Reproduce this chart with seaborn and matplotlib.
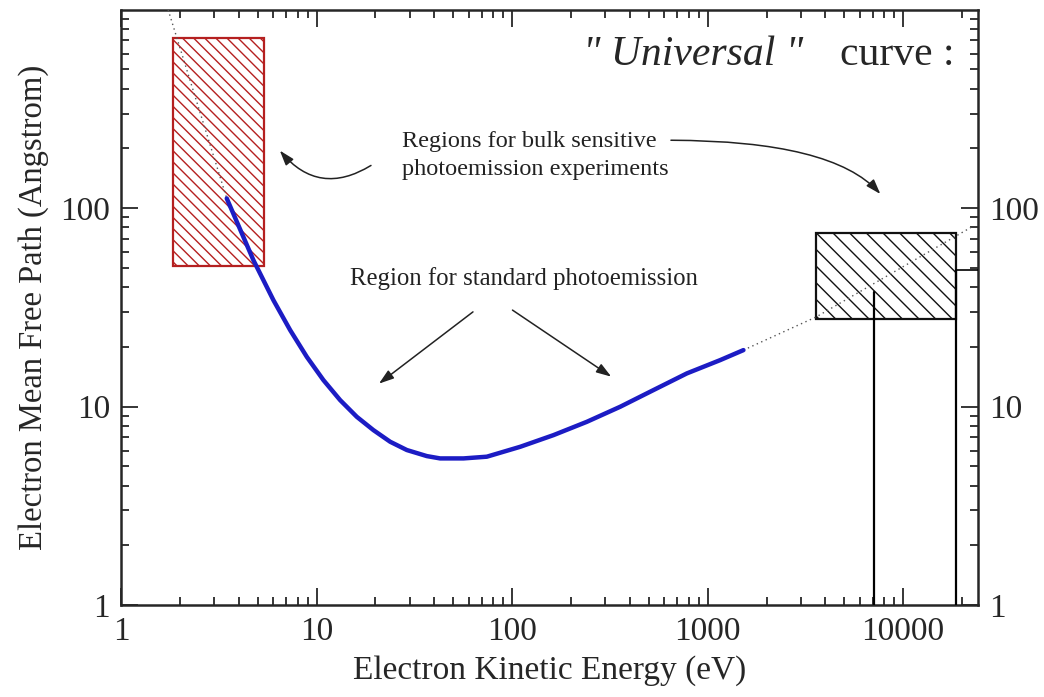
import numpy as np
import pandas as pd
import matplotlib
matplotlib.use("Agg")
import matplotlib.pyplot as plt
import seaborn as sns
from matplotlib.patches import Rectangle

# ---- data ----
energy_ev = [3.47, 4.75, 6.01, 7.32, 8.91, 10.83, 13.19, 16.05, 19.52, 23.77, 28.93, 36.6, 42.8,
             56.4, 74.2, 109.9, 162.7, 241, 357, 528, 783, 1159, 1524]
mfp_angstrom = [112, 54.7, 34.4, 24.3, 17.8, 13.6, 10.78, 8.88, 7.61, 6.65, 6.04, 5.63, 5.48,
                5.48, 5.59, 6.27, 7.18, 8.38, 9.98, 12.11, 14.70, 17.15, 19.26]

extrap_low_x = [1.74, 3.47]
extrap_low_y = [1000, 112]
extrap_high_x = [1524, 3590, 22450]
extrap_high_y = [19.26, 28.3, 80.5]

red_box_x = [1.84, 5.35]
red_box_y = [51, 718]
black_box_x = [3590, 18600]
black_box_y = [27.5, 75]
vline_x = [7110, 18600]
vline_top = [37.9, 48.8]

x_ticks = [1, 10, 100, 1000, 10000]
x_tick_labels = ["1", "10", "100", "1000", "10000"]
y_ticks = [1, 10, 100]
y_tick_labels = ["1", "10", "100"]

sns.set_style("ticks")
plt.rcParams['font.family'] = ['Liberation Serif', 'DejaVu Serif']
plt.rcParams['hatch.linewidth'] = 1.0

fig = plt.figure(figsize=(10.44, 6.97), dpi=100)
ax = fig.add_axes([0.116, 0.132, 0.821, 0.854])
ax.set_xscale('log')
ax.set_yscale('log')
ax.set_xlim(1, 24200)
ax.set_ylim(1, 1000)

df = pd.DataFrame({"E": energy_ev, "L": mfp_angstrom})
sns.lineplot(data=df, x="E", y="L", ax=ax, color="#1c1cc4", linewidth=3.2, sort=False, zorder=5)

ax.plot(extrap_low_x, extrap_low_y, linestyle=(0, (1, 2.5)), color="#555555", linewidth=1.0, zorder=3)
ax.plot(extrap_high_x, extrap_high_y, linestyle=(0, (1, 2.5)), color="#555555", linewidth=1.0, zorder=3)

ax.add_patch(Rectangle((red_box_x[0], red_box_y[0]), red_box_x[1] - red_box_x[0], red_box_y[1] - red_box_y[0],
                       facecolor='none', edgecolor='#b52020', hatch='\\\\\\', linewidth=1.6, zorder=2))
ax.add_patch(Rectangle((black_box_x[0], black_box_y[0]), black_box_x[1] - black_box_x[0], black_box_y[1] - black_box_y[0],
                       facecolor='none', edgecolor='#111111', hatch='\\\\', linewidth=1.6, zorder=2))

for vx, vt in zip(vline_x, vline_top):
    ax.plot([vx, vx], [1, vt], color='black', linewidth=1.6, zorder=4)
ax.plot([vline_x[1], 24200], [vline_top[1], vline_top[1]], color='black', linewidth=1.2, zorder=4)

# text
ax.text(231, 590, '" Universal "', fontsize=30, fontstyle='italic', ha='left', va='center')
ax.text(4760, 590, 'curve :', fontsize=30, ha='left', va='center')
ax.text(27.4, 185, 'Regions for bulk sensitive\nphotoemission experiments', fontsize=17.5,
        ha='left', va='center', linespacing=1.45, color='#222222')
ax.text(115, 44.4, 'Region for standard photoemission', fontsize=17.8, ha='center', va='center', color='#222222')

arrowprops = dict(arrowstyle='-|>,head_length=0.9,head_width=0.3', color='#222222', linewidth=1.1)
ax.annotate('', xy=(6.35, 200), xytext=(19.5, 167),
            arrowprops=dict(connectionstyle='arc3,rad=-0.45', **arrowprops))
ax.annotate('', xy=(7810, 115), xytext=(628, 220),
            arrowprops=dict(connectionstyle='angle3,angleA=0,angleB=-50', **arrowprops))
ax.annotate('', xy=(20.3, 12.8), xytext=(64.7, 30.6), arrowprops=arrowprops)
ax.annotate('', xy=(330, 13.9), xytext=(97.7, 31.2), arrowprops=arrowprops)

# axes styling
ax.set_xticks(x_ticks)
ax.set_xticklabels(x_tick_labels)
ax.set_yticks(y_ticks)
ax.set_yticklabels(y_tick_labels)
ax.tick_params(which='both', direction='in', top=True, right=True, labelright=True, width=1.3)
ax.tick_params(which='major', length=12, labelsize=24, pad=8)
ax.tick_params(which='minor', length=6)
for s in ax.spines.values():
    s.set_linewidth(1.8)
    s.set_visible(True)
ax.set_xlabel('Electron Kinetic Energy (eV)', fontsize=24, labelpad=6)
ax.set_ylabel('Electron Mean Free Path (Angstrom)', fontsize=23.5, labelpad=8)

fig.savefig('out.png', dpi=100)
